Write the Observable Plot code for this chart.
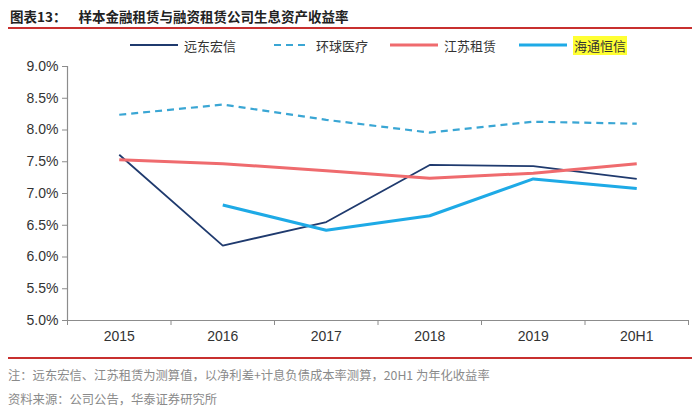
<!DOCTYPE html>
<html><head><meta charset="utf-8">
<script src="https://cdn.jsdelivr.net/npm/d3@7"></script>
<script src="https://cdn.jsdelivr.net/npm/@observablehq/plot@0.6"></script>
<style>
html,body{margin:0;padding:0;background:#fff;}
#page{position:relative;width:700px;height:414px;overflow:hidden;font-family:"Noto Sans CJK SC","Noto Sans",sans-serif;}
#title{position:absolute;left:10px;top:6px;font-size:13.5px;font-weight:bold;color:#222;white-space:nowrap;}
#title .num{margin-right:12px;}
.redline{position:absolute;left:8px;width:684px;height:2px;background:#c8302f;}
.leg{position:absolute;top:36px;height:18px;display:flex;align-items:center;font-size:13px;color:#333;white-space:nowrap;}
.leg svg{margin-right:6px;}
.hl{background:#ffff33;padding:0 1px;}
#chart{position:absolute;left:0;top:56px;}
.foot{position:absolute;left:8px;font-size:12.3px;color:#8a8a8a;white-space:nowrap;}
</style></head>
<body>
<div id="page">
  <div id="title"><span class="num">图表13：</span>样本金融租赁与融资租赁公司生息资产收益率</div>
  <div class="redline" style="top:27px"></div>
  <div id="legend"></div>
  <div id="chart"></div>
  <div class="redline" style="top:357px"></div>
  <div class="foot" id="note" style="top:366px"></div>
  <div class="foot" id="source" style="top:390px"></div>
</div>
<script>
const categories = ["2015", "2016", "2017", "2018", "2019", "20H1"];
const seriesNames = ["远东宏信", "环球医疗", "江苏租赁", "海通恒信"];
const yuandong = [7.61, 6.18, 6.55, 7.45, 7.43, 7.23];
const huanqiu  = [8.24, 8.40, 8.16, 7.96, 8.13, 8.10];
const jiangsu  = [7.53, 7.47, 7.36, 7.24, 7.32, 7.47];
const haitong  = [null, 6.82, 6.42, 6.65, 7.23, 7.08];
const yTicks = [5.0, 5.5, 6.0, 6.5, 7.0, 7.5, 8.0, 8.5, 9.0];
const noteText = "注：远东宏信、江苏租赁为测算值，以净利差+计息负债成本率测算，20H1 为年化收益率";
const sourceText = "资料来源：公司公告，华泰证券研究所";

const styles = [
  {color: "#1f3a6e", width: 1.8, dash: null},
  {color: "#3aa6d4", width: 2.2, dash: "7,5"},
  {color: "#ef6b6e", width: 3, dash: null},
  {color: "#1eaae6", width: 3, dash: null}
];
const seriesValues = [yuandong, huanqiu, jiangsu, haitong];

const rows = [];
seriesValues.forEach((vals, s) => {
  vals.forEach((v, i) => { if (v != null) rows.push({series: seriesNames[s], i, cat: categories[i], v}); });
});

const boundaries = d3.range(-0.5, categories.length, 1);
const centers = categories.map((c, i) => i);
const axisColor = "#8c8c8c";

const lineMarks = seriesNames.map((name, s) => Plot.line(rows.filter(d => d.series === name), {
  x: "i", y: "v", stroke: styles[s].color, strokeWidth: styles[s].width,
  strokeDasharray: styles[s].dash || undefined, strokeLinejoin: "miter", strokeLinecap: "butt"
}));

const chart = Plot.plot({
  width: 700, height: 300,
  marginTop: 10, marginBottom: 36, marginLeft: 67, marginRight: 12,
  style: {fontFamily: "'Liberation Sans', Arial, sans-serif", fontSize: "14px", color: "#333", background: "white"},
  x: {type: "linear", domain: [-0.5, categories.length - 0.5]},
  y: {domain: [5, 9]},
  marks: [
    Plot.axisY({ticks: yTicks, tickSize: 5, tickPadding: 4, tickFormat: d => d.toFixed(1) + "%", stroke: axisColor, fill: "#333", label: null, fontSize: 14}),
    Plot.axisX({ticks: boundaries, tickSize: 5, tickFormat: () => "", stroke: axisColor, label: null}),
    Plot.axisX({ticks: centers, tickSize: 0, tickPadding: 11, tickFormat: i => categories[i], fill: "#333", label: null, fontSize: 14}),
    Plot.ruleX([-0.5], {stroke: axisColor, strokeWidth: 1.2}),
    Plot.ruleY([5], {stroke: axisColor, strokeWidth: 1.2}),
    ...lineMarks
  ]
});
document.getElementById("chart").appendChild(chart);

// legend
const legPos = [130, 274, 390, 519];
const legend = document.getElementById("legend");
seriesNames.forEach((name, s) => {
  const item = document.createElement("div");
  item.className = "leg";
  item.style.left = legPos[s] + "px";
  const w = s === 1 ? 36 : 48;
  item.innerHTML = `<svg width="${w}" height="6"><line x1="0" x2="${w}" y1="3" y2="3" stroke="${styles[s].color}" stroke-width="${styles[s].width}" ${styles[s].dash ? `stroke-dasharray="${styles[s].dash}"` : ""}/></svg>` +
    `<span class="${s === 3 ? "hl" : ""}">${name}</span>`;
  legend.appendChild(item);
});
document.getElementById("note").textContent = noteText;
document.getElementById("source").textContent = sourceText;
</script>
</body></html>
